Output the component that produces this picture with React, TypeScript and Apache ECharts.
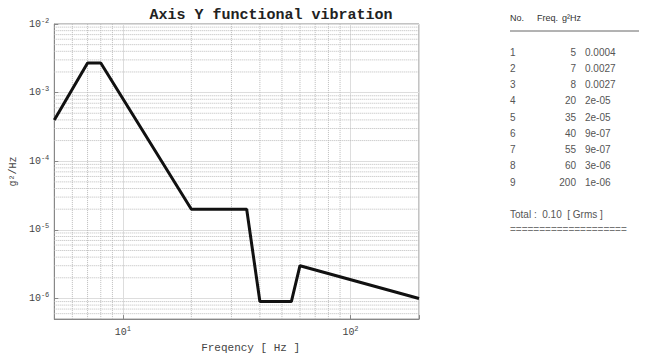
import React, { useEffect, useRef } from "react";
import * as echarts from "echarts";

const freqs = [5, 7, 8, 20, 35, 40, 55, 60, 200];
const psd = [0.0004, 0.0027, 0.0027, 2e-5, 2e-5, 9e-7, 9e-7, 3e-6, 1e-6];
const xMinorGrid = [6, 7, 8, 9, 20, 30, 40, 50, 60, 70, 80, 90];
const yMinorGrid = [
  6e-7, 7e-7, 8e-7, 9e-7,
  2e-6, 3e-6, 4e-6, 5e-6, 6e-6, 7e-6, 8e-6, 9e-6,
  2e-5, 3e-5, 4e-5, 5e-5, 6e-5, 7e-5, 8e-5, 9e-5,
  2e-4, 3e-4, 4e-4, 5e-4, 6e-4, 7e-4, 8e-4, 9e-4,
  2e-3, 3e-3, 4e-3, 5e-3, 6e-3, 7e-3, 8e-3, 9e-3,
];
const xRange = [5, 200];
const yRange = [5e-7, 1e-2];
const totalGrms = "0.10";
const titleText = "Axis Y functional vibration";
const xName = "Freqency [ Hz ]";
const yName = "g²/Hz";

const fmtPsd = (v: number) => {
  if (v >= 1e-4) return String(v);
  return v.toExponential().replace(/e-(\d)$/, "e-0$1");
};

const powLabel = (v: number) => {
  const l = Math.log10(v);
  const e = Math.round(l);
  if (Math.abs(l - e) > 0.01) return "";
  return `{b|10}{s|${e}}`;
};

const mono = "Liberation Mono";
const sans = "Liberation Sans";

export default function App() {
  const ref = useRef<HTMLDivElement>(null);
  useEffect(() => {
    if (!ref.current) return;
    const chart = echarts.init(ref.current, null, { renderer: "svg" });
    const data = freqs.map((f, i) => [f, psd[i]]);
    const tableColor = "#555";
    const rowTop = 52;
    const rowH = 16.25;
    const graphics: any[] = [
      { type: "text", x: 510, y: 18, style: { text: "No.", fontSize: 9, fontFamily: sans, fill: "#333", verticalAlign: "middle" } },
      { type: "text", x: 537, y: 18, style: { text: "Freq.", fontSize: 9, fontFamily: sans, fill: "#333", verticalAlign: "middle" } },
      { type: "text", x: 562, y: 18, style: { text: "g²Hz", fontSize: 9, fontFamily: sans, fill: "#333", verticalAlign: "middle" } },
      { type: "line", shape: { x1: 510, y1: 31, x2: 639, y2: 31 }, style: { stroke: "#666", lineWidth: 1 } },
    ];
    freqs.forEach((f, i) => {
      const y = rowTop + i * rowH;
      graphics.push(
        { type: "text", x: 510, y, style: { text: String(i + 1), fontSize: 10, fontFamily: sans, fill: tableColor, verticalAlign: "middle" } },
        { type: "text", x: 576, y, style: { text: String(f), fontSize: 10, fontFamily: sans, fill: tableColor, align: "right", verticalAlign: "middle" } },
        { type: "text", x: 585, y, style: { text: fmtPsd(psd[i]), fontSize: 10, fontFamily: sans, fill: tableColor, verticalAlign: "middle" } }
      );
    });
    graphics.push(
      { type: "text", x: 510, y: 214, style: { text: `Total :  ${totalGrms}  [ Grms ]`, fontSize: 10, fontFamily: sans, fill: tableColor, verticalAlign: "middle" } },
      { type: "text", x: 510, y: 229, style: { text: "=".repeat(20), fontSize: 10, fontFamily: sans, fill: "#777", verticalAlign: "middle" } }
    );

    const richLabel = {
      b: { fontSize: 10, fontFamily: mono, color: "#444" },
      s: { fontSize: 7, fontFamily: mono, color: "#444", padding: [0, 0, 7, 0] },
    };

    const gridStyle = { type: "dotted", color: "#bbb", width: 1 };
    const gridSeries: any[] = [
      ...xMinorGrid.map((v) => ({
        type: "line",
        data: [[v, yRange[0]], [v, yRange[1]]],
        symbol: "none",
        silent: true,
        z: 1,
        lineStyle: gridStyle,
      })),
      ...yMinorGrid.map((v) => ({
        type: "line",
        data: [[xRange[0], v], [xRange[1], v]],
        symbol: "none",
        silent: true,
        z: 1,
        lineStyle: gridStyle,
      })),
    ];

    chart.setOption({
      animation: false,
      backgroundColor: "#fff",
      title: {
        text: titleText,
        left: 266,
        textAlign: "center",
        top: 3,
        textStyle: { fontFamily: mono, fontWeight: "bold", fontSize: 15, color: "#222" },
      },
      grid: {
        left: 50,
        right: 231,
        top: 24,
        bottom: 32,
        show: true,
        borderColor: "#888",
        borderWidth: 1,
      },
      xAxis: {
        type: "log",
        logBase: 10,
        min: xRange[0],
        max: xRange[1],
        name: xName,
        nameLocation: "middle",
        nameGap: 21,
        nameTextStyle: { fontFamily: mono, fontSize: 11, color: "#444", padding: [0, 0, 0, 28] },
        axisLine: { show: true, lineStyle: { color: "#888" } },
        axisTick: { inside: true, length: 4, lineStyle: { color: "#888" } },
        axisLabel: { formatter: powLabel, rich: richLabel, margin: 6 },
        splitLine: { show: true, lineStyle: { color: "#ddd", width: 1 } },
      },
      yAxis: {
        type: "log",
        logBase: 10,
        min: yRange[0],
        max: yRange[1],
        name: yName,
        nameLocation: "middle",
        nameGap: 34,
        nameRotate: 90,
        nameTextStyle: { fontFamily: mono, fontSize: 10, color: "#444" },
        axisLine: { show: true, lineStyle: { color: "#888" } },
        axisTick: { inside: true, length: 4, lineStyle: { color: "#888" } },
        axisLabel: { formatter: powLabel, rich: richLabel, margin: 5 },
        splitLine: { show: true, lineStyle: { color: "#ddd", width: 1 } },
      },
      graphic: graphics,
      series: [
        ...gridSeries,
        {
          type: "line",
          data,
          z: 5,
          symbol: "none",
          lineStyle: { color: "#111", width: 3 },
        },
      ],
    });
    return () => chart.dispose();
  }, []);
  return <div ref={ref} style={{ width: 650, height: 358, position: "absolute", left: 0, top: 0 }} />;
}
